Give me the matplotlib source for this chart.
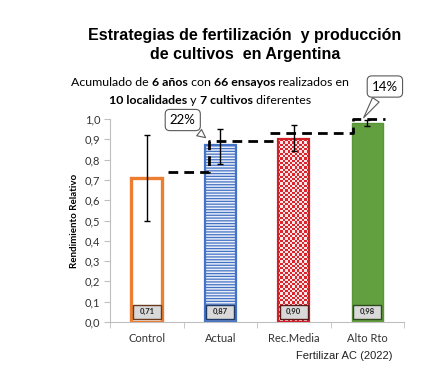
import numpy as np
import matplotlib
matplotlib.use("Agg")
import matplotlib.pyplot as plt
from matplotlib.patches import Rectangle

# data
categories = ["Control", "Actual", "Rec.Media", "Alto Rto"]
values = [0.71, 0.87, 0.90, 0.98]
err_low = [0.50, 0.78, 0.84, 0.965]
err_high = [0.92, 0.95, 0.97, 0.995]
value_labels = ["0,71", "0,87", "0,90", "0,98"]
yticks = [0.0, 0.1, 0.2, 0.3, 0.4, 0.5, 0.6, 0.7, 0.8, 0.9, 1.0]

# dashed step guide (x, y) and callouts
step1_x = [0.29, 0.85, 0.85, 1.72]
step1_y = [0.74, 0.74, 0.89, 0.89]
step2_x = [1.68, 2.81, 2.81, 3.24]
step2_y = [0.93, 0.93, 1.00, 1.00]
callouts = [("22%", (0.83, 0.90), (0.49, 0.995)),
            ("14%", (2.93, 0.995), (3.24, 1.16))]

cal = "Lato"
ari = "Liberation Sans"

plt.rcParams["hatch.color"] = "#A3B9E2"
plt.rcParams["hatch.linewidth"] = 0.9

fig = plt.figure(figsize=(4.43, 3.8), dpi=100)
ax = fig.add_axes([110 / 443, 1 - 322 / 380, 294 / 443, 203 / 380])

x = np.arange(len(categories))
w = 0.42
bars = ax.bar(x, values, width=w, zorder=2)

# Control: white with orange edge
b = bars[0]
b.set_facecolor("white")
b.set_edgecolor("#ED7D31")
b.set_linewidth(2.4)

# Actual: horizontal lines
b = bars[1]
b.set_facecolor("#E9EEF8")
b.set_edgecolor("#4472C4")
b.set_hatch("------")
b.set_linewidth(1.6)

# Rec.Media: checkerboard
b = bars[2]
b.set_facecolor("none")
b.set_edgecolor("#D0202A")
b.set_linewidth(1.6)
b.set_zorder(3)
nx, ny = 13, 80
ii, jj = np.indices((ny, nx))
checker = ((ii + jj) % 2).astype(float)
cmap = matplotlib.colors.ListedColormap(["#FCE4E4", "#D9262E"])
im = ax.imshow(checker, cmap=cmap, aspect="auto", interpolation="nearest",
               extent=(b.get_x(), b.get_x() + b.get_width(), 0, b.get_height()),
               zorder=2)
im.set_clip_path(b)

# Alto Rto: solid green
b = bars[3]
b.set_facecolor("#62A03F")
b.set_edgecolor("#5A9439")
b.set_linewidth(1.0)

ax.set_xlim(-0.5, 3.5)
ax.set_ylim(0, 1.0)

# error bars
yerr = [np.array(values) - np.array(err_low), np.array(err_high) - np.array(values)]
ax.errorbar(x, values, yerr=yerr, fmt="none", ecolor="black", elinewidth=1.0,
            capsize=2.5, capthick=1.0, zorder=5)

# value boxes at bottom
box_edges = ["#6B3A1E", "#1F3864", "#5A1A1A", "#2E4A1E"]
for xi, lab, ec in zip(x, value_labels, box_edges):
    ax.add_patch(Rectangle((xi - 0.19, 0.017), 0.38, 0.066, facecolor="#D9D9D9",
                           edgecolor=ec, linewidth=1.0, zorder=6))
    ax.text(xi, 0.05, lab, ha="center", va="center", fontsize=5.5, fontweight="bold",
            family=cal, color="#222222", zorder=7)

# dashed guides
for sx, sy in [(step1_x, step1_y), (step2_x, step2_y)]:
    ax.plot(sx, sy, color="black", linewidth=2.0, linestyle=(0, (3.5, 2.2)),
            zorder=4, clip_on=False)

# callouts
for txt, pt, pos in callouts:
    ax.annotate(txt, xy=pt, xytext=pos, ha="center", va="center", fontsize=9.5,
                family=cal, zorder=8, annotation_clip=False,
                bbox=dict(boxstyle="round,pad=0.35,rounding_size=0.35", fc="white",
                          ec="#595959", lw=0.8),
                arrowprops=dict(arrowstyle="wedge,tail_width=0.6,shrink_factor=0.5",
                                fc="white", ec="#595959", lw=0.8))

# axes styling
for s in ["top", "right"]:
    ax.spines[s].set_visible(False)
ax.spines["left"].set_color("#BFBFBF")
ax.spines["bottom"].set_color("#BFBFBF")
ax.set_yticks(yticks)
ax.set_yticklabels([f"{v:.1f}".replace(".", ",") for v in yticks], family=cal, fontsize=8)
ax.tick_params(axis="y", length=4, color="#BFBFBF", pad=3, labelcolor="#333333")
ax.set_xticks(x)
ax.set_xticklabels(categories, family=cal, fontsize=8, color="#333333")
ax.set_xticks([-0.5, 0.5, 1.5, 2.5, 3.5], minor=True)
ax.tick_params(axis="x", which="major", length=0, pad=8)
ax.tick_params(axis="x", which="minor", length=4, color="#BFBFBF")
ax.set_ylabel("Rendimiento Relativo", family=cal, fontsize=7, fontweight="bold",
              labelpad=4)

# title
fig.text(245 / 443, 1 - 45 / 380, "Estrategias de fertilización  y producción\nde cultivos  en Argentina",
         ha="center", va="center", fontsize=11.5, fontweight="bold", family=ari,
         linespacing=1.35)

# subtitle with mixed bold
def rich_line(y_px, parts, cx_px, size=8.9):
    r = fig.canvas.get_renderer()
    texts = []
    for s, bold in parts:
        t = fig.text(0, 1 - y_px / 380, s, fontsize=size, family=cal,
                     fontweight="bold" if bold else "normal", va="center", ha="left")
        texts.append(t)
    widths = [t.get_window_extent(r).width for t in texts]
    total = sum(widths)
    xpos = cx_px - total / 2
    for t, wd in zip(texts, widths):
        t.set_x(xpos / 443)
        xpos += wd

rich_line(83, [("Acumulado de ", False), ("6 años", True), (" con ", False),
               ("66 ensayos", True), (" realizados en", False)], 210)
rich_line(100, [("10 localidades", True), (" y ", False), ("7 cultivos", True),
                (" diferentes", False)], 210)

fig.text(392 / 443, 1 - 356 / 380, "Fertilizar AC (2022)", ha="right", va="center",
         fontsize=8, family=ari, color="#222222")

fig.savefig("out.png", dpi=100)
